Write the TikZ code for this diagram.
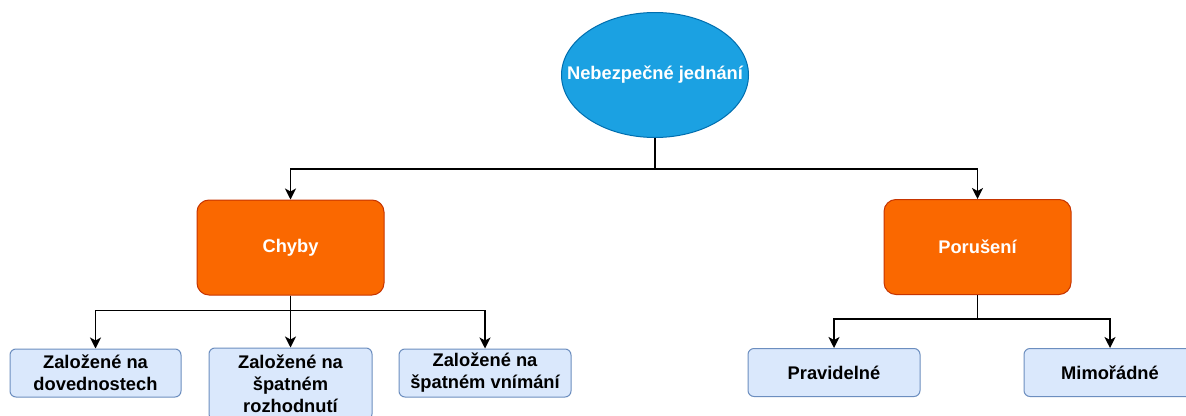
\documentclass[tikz,border=0pt]{standalone}
\usepackage{fontspec}
\setmainfont{Liberation Sans}
\usetikzlibrary{arrows.meta,shapes.geometric}
\definecolor{topfill}{HTML}{1BA1E2}
\definecolor{topline}{HTML}{006EAF}
\definecolor{midfill}{HTML}{FA6800}
\definecolor{midline}{HTML}{C73500}
\definecolor{lowfill}{HTML}{DAE8FC}
\definecolor{lowline}{HTML}{6C8EBF}
\begin{document}
\begin{tikzpicture}[x=1pt,y=-1pt,
	every node/.style={font=\fontsize{18.3}{22}\selectfont\bfseries,align=center,inner sep=0pt,line width=1pt},
	topnode/.style={ellipse,fill=topfill,draw=topline,text=white,minimum width=187pt,minimum height=125pt},
	midnode/.style={rectangle,rounded corners=12pt,fill=midfill,draw=midline,text=white,minimum width=187pt,minimum height=95pt},
	lownode/.style={rectangle,rounded corners=6pt,fill=lowfill,draw=lowline,minimum height=48pt},
	arr/.style={-{Stealth[length=11pt,width=11pt,inset=3pt]},line width=1.5pt}]
	\useasboundingbox[fill=white](0,0)rectangle(1186,415);
	\begin{scope}
	\clip(0,0)rectangle(1186,415);
	\node[topnode] (act) at (655,75) {\makebox[0pt]{Nebezpečné jednání}};
	\node[midnode] (err) at (290.5,247.5) {Chyby};
	\node[midnode] (viol) at (977.5,247) {Porušení};
	\node[lownode,minimum width=171pt] (skill) at (95.5,373) {Založené na\\dovednostech};
	\node[lownode,minimum width=163pt,minimum height=72pt] (decis) at (290.5,384) {Založené na\\špatném\\rozhodnutí};
	\node[lownode,minimum width=172pt] (percep) at (485,373) {Založené na\\špatném vnímání};
	\node[lownode,minimum width=172pt] (rout) at (834,372.5) {Pravidelné};
	\node[lownode,minimum width=172pt] (excep) at (1110,372.5) {Mimořádné};
	\draw[arr](act.south)-- ++(0,31)-|(err);
	\draw[arr](act.south)-- ++(0,31)-|(viol);
	\draw[arr](err.south)-- ++(0,15)-|(skill);
	\draw[arr](err.south)--(decis);
	\draw[arr](err.south)-- ++(0,15)-|(percep);
	\draw[arr](viol.south)-- ++(0,24)-|(rout);
	\draw[arr](viol.south)-- ++(0,24)-|(excep);
	\end{scope}
\end{tikzpicture}
\end{document}
